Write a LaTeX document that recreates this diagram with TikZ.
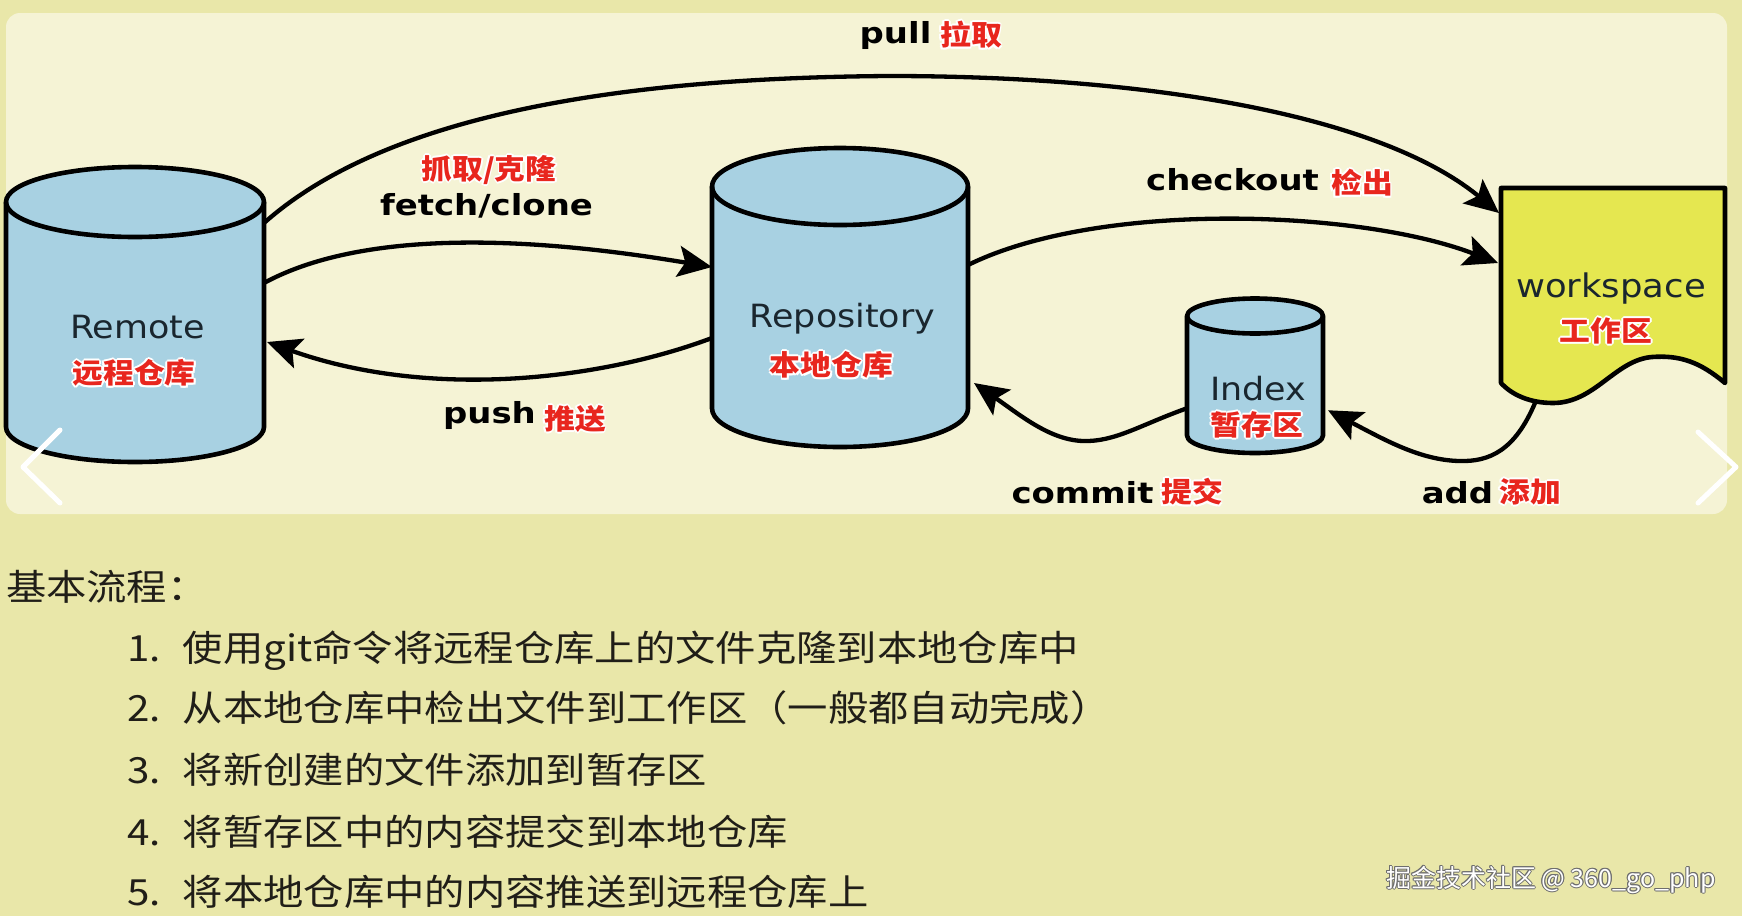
\documentclass[tikz,border=0pt]{standalone}
\usepackage{fontspec}
\usetikzlibrary{arrows.meta}
\newfontfamily\namefont[FakeStretch=1.09]{DejaVu Sans}
\newfontfamily\labfont[FakeStretch=1.17]{DejaVu Sans}
\newfontfamily\redfont[FakeStretch=1.1]{Noto Sans CJK SC}
\newfontfamily\bodyfont[FakeStretch=1.12]{Noto Sans CJK SC}
\newfontfamily\markfont{Noto Sans CJK SC}
\definecolor{outerbg}{RGB}{233,231,169}
\definecolor{panelbg}{RGB}{245,243,213}
\definecolor{cylblue}{RGB}{168,209,226}
\definecolor{wsyellow}{RGB}{229,231,80}
\definecolor{labred}{RGB}{232,38,30}
\definecolor{nameink}{RGB}{26,38,46}
\definecolor{bodyink}{RGB}{32,30,24}
\definecolor{markedge}{RGB}{110,110,110}
\newcommand\halocopy[2]{\rlap{\kern#1\raisebox{#2}{\copy0}}}
\newcommand\haloset[3]{{\color{#1}\halocopy{#2}{0pt}\halocopy{-#2}{0pt}\halocopy{0pt}{#2}\halocopy{0pt}{-#2}%
  \halocopy{#3}{#3}\halocopy{-#3}{#3}\halocopy{#3}{-#3}\halocopy{-#3}{-#3}}}
\newcommand\redtxt[1]{{\redfont\bfseries\fontsize{28}{32}\selectfont
  \setbox0=\hbox{#1}\leavevmode\haloset{white}{1.9pt}{1.35pt}{\color{labred}\copy0}}}
\newcommand\marktxt[1]{{\markfont\fontsize{25}{28}\selectfont
  \setbox0=\hbox{#1}\leavevmode\haloset{markedge}{1pt}{0.7pt}{\color{white}\copy0}}}
\newcommand\drawcyl[3]{%
  \filldraw[shapeline, fill=cylblue] (#1.north west) -- (#1.south west)
    arc[start angle=180, end angle=0, x radius=#2, y radius=#3]
    -- (#1.north east)
    arc[start angle=0, end angle=-180, x radius=#2, y radius=#3] -- cycle;
  \draw[shapeline] (#1.north west) arc[start angle=180, end angle=0, x radius=#2, y radius=#3];}
\begin{document}
\begin{tikzpicture}[x=1pt,y=-1pt,
  every node/.style={inner sep=0pt,outer sep=0pt},
  shapeline/.style={line width=4.6pt, draw=black, line join=round},
  cylbody/.style={rectangle, draw=none, fill=none},
  conn/.style={line width=4.3pt, draw=black, -{Stealth[length=34pt,width=31pt,inset=7pt]}},
  nametext/.style={text=nameink, font=\namefont\fontsize{32}{36}\selectfont, anchor=base},
  cmdtext/.style={text=black, font=\labfont\bfseries\fontsize{29}{34}\selectfont, anchor=base},
  bodytext/.style={text=bodyink, font=\bodyfont\fontsize{36}{42}\selectfont, anchor=base west},
  chevron/.style={white, line width=5pt, line cap=round, line join=round}
]
\useasboundingbox (0,0) rectangle (1742,916);
\fill[outerbg] (0,0) rectangle (1742,916);
\fill[panelbg, rounded corners=14pt] (6,13) rectangle (1727,514);

% shapes
\node[cylbody, minimum width=258pt, minimum height=225pt] (remote) at (135,314.5) {};
\node[cylbody, minimum width=256pt, minimum height=222pt] (repo) at (840,297.5) {};
\node[cylbody, minimum width=136pt, minimum height=119.5pt] (index) at (1255,375.75) {};
\node[cylbody, minimum width=224pt, minimum height=195pt] (work) at (1613,285.5) {};
\drawcyl{remote}{129}{35}
\drawcyl{repo}{128}{38.5}
\drawcyl{index}{68}{17.5}
\filldraw[shapeline, fill=wsyellow] (work.north west) -- (work.north east) -- (work.south east)
  .. controls (1700,362) and (1680,355) .. (1652,357)
  .. controls (1615,360) and (1595,403) .. (1553,403)
  .. controls (1530,403) and (1512,395) .. (work.south west) -- cycle;

% names
\node[nametext] (remotename) at (137.5,338) {Remote};
\node (remotecn) at (134,373) {\redtxt{远程仓库}};
\node[nametext] (reponame) at (842.5,327) {Repository};
\node (repocn) at (831.5,365) {\redtxt{本地仓库}};
\node[nametext] (indexname) at (1258,400) {Index};
\node (indexcn) at (1257,425) {\redtxt{暂存区}};
\node[nametext, font=\namefont\fontsize{32.5}{36}\selectfont] (workname) at (1611,297) {workspace};
\node (workcn) at (1606,331) {\redtxt{工作区}};

% connectors
\draw[conn] ([yshift=-21pt]remote.north east)
  .. controls (380,120) and (600,78) .. (889,76)
  .. controls (1150,76) and (1380,115) .. ([xshift=-2pt,yshift=72.5pt]work.west);
\draw[conn] ([yshift=31.5pt]remote.east)
  .. controls (380,220) and (580,245) .. ([yshift=30.5pt]repo.west);
\draw[conn] ([yshift=-40.5pt]repo.west)
  .. controls (600,380) and (430,400) .. ([xshift=3pt,yshift=-27.5pt]remote.east);
\draw[conn] ([yshift=32.5pt]repo.east)
  .. controls (1100,200) and (1360,210) .. ([xshift=-3pt,yshift=22.5pt]work.west);
\draw[conn] ([yshift=-32.5pt]index.west)
  .. controls (1140,425) and (1115,442) .. (1083,441)
  .. controls (1050,440) and (1020,415) .. ([xshift=6pt,yshift=-85.5pt]repo.east);
\draw[conn] ([xshift=-78pt,yshift=-20pt]work.south)
  .. controls (1515,450) and (1490,462) .. (1459,461)
  .. controls (1420,460) and (1385,440) .. ([xshift=5pt,yshift=-34.5pt]index.east);

% connector labels
\node[cmdtext] (pulllab) at (895.5,43) {pull};
\node (pullcn) at (971,35) {\redtxt{拉取}};
\node (fetchcn) at (489,170) {\redtxt{抓取/克隆}};
\node[cmdtext] (fetchlab) at (486.5,215) {fetch/clone};
\node[cmdtext] (pushlab) at (489.5,423) {push};
\node (pushcn) at (575,419) {\redtxt{推送}};
\node[cmdtext] (checklab) at (1232.5,190) {checkout};
\node (checkcn) at (1362,183) {\redtxt{检出}};
\node[cmdtext] (commitlab) at (1082.5,503) {commit};
\node (commitcn) at (1192,492) {\redtxt{提交}};
\node[cmdtext] (addlab) at (1457.5,503) {add};
\node (addcn) at (1530,492) {\redtxt{添加}};

% carousel arrows
\draw[chevron] (60,430) -- (23,467) -- (60,503);
\draw[chevron] (1698,432) -- (1736,467) -- (1698,503);

% body text
\node[bodytext] (title) at (6,600) {基本流程：};
\node[bodytext] (step1) at (127,661) {\makebox[56pt][l]{1.}使用git命令将远程仓库上的文件克隆到本地仓库中};
\node[bodytext] (step2) at (127,721) {\makebox[56pt][l]{2.}从本地仓库中检出文件到工作区（一般都自动完成）};
\node[bodytext] (step3) at (127,783) {\makebox[56pt][l]{3.}将新创建的文件添加到暂存区};
\node[bodytext] (step4) at (127,845) {\makebox[56pt][l]{4.}将暂存区中的内容提交到本地仓库};
\node[bodytext] (step5) at (127,905) {\makebox[56pt][l]{5.}将本地仓库中的内容推送到远程仓库上};
\node[anchor=base west] (mark) at (1386,887) {\marktxt{掘金技术社区 @ 360\_go\_php}};
\end{tikzpicture}
\end{document}
